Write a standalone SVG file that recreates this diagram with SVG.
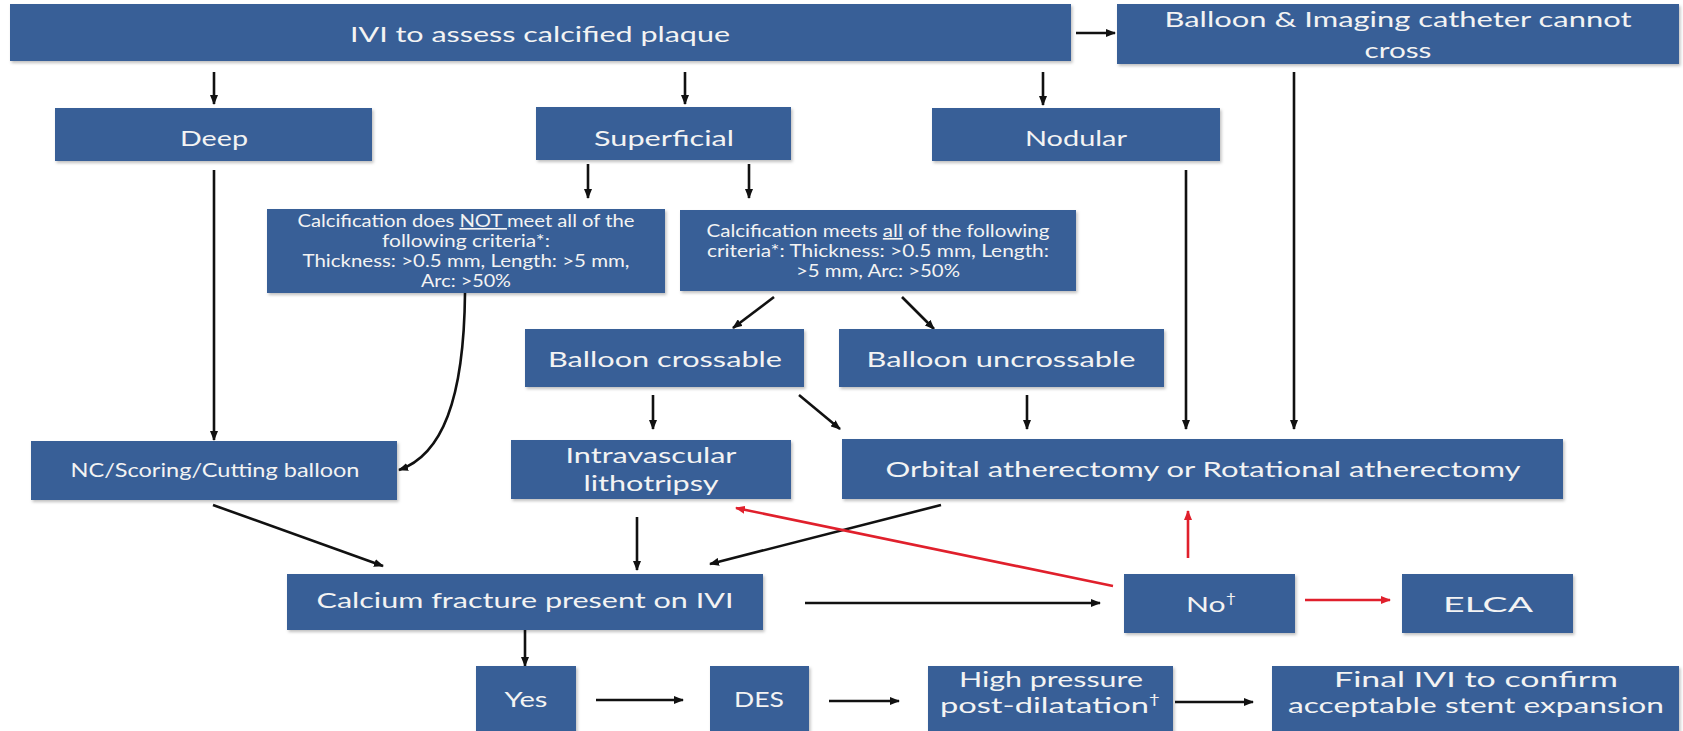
<svg xmlns="http://www.w3.org/2000/svg" width="1683" height="731" viewBox="0 0 1683 731">
<defs>
<style>
.box{fill:#385f97;filter:url(#sh)}
.t{font-family:Lato,"Open Sans",sans-serif;font-size:22px;fill:#f3f3f3;text-anchor:middle}
.s{font-family:Lato,"Open Sans",sans-serif;font-size:16.5px;fill:#f3f3f3;text-anchor:middle}
.c{stroke:#111;stroke-width:2.6;fill:none;marker-end:url(#ab)}
.r{stroke:#e0202c;stroke-width:2.6;fill:none;marker-end:url(#ar)}
.u{text-decoration:underline}
.sup{font-size:13px}
</style>
<filter id="sh" x="-5%" y="-10%" width="110%" height="130%">
<feDropShadow dx="1.5" dy="2" stdDeviation="1.5" flood-color="#000" flood-opacity="0.25"/>
</filter>
<marker id="ab" markerUnits="userSpaceOnUse" markerWidth="10" markerHeight="8" refX="9" refY="4" orient="auto">
<path d="M0,0 L10,4 L0,8 z" fill="#111"/>
</marker>
<marker id="ar" markerUnits="userSpaceOnUse" markerWidth="10" markerHeight="8" refX="9" refY="4" orient="auto">
<path d="M0,0 L10,4 L0,8 z" fill="#e0202c"/>
</marker>
</defs>
<rect width="1683" height="731" fill="#fff"/>

<g id="connectors">
<line class="c" x1="1076" y1="33" x2="1115" y2="33"/>
<line class="c" x1="214" y1="72" x2="214" y2="104"/>
<line class="c" x1="685" y1="72" x2="685" y2="104"/>
<line class="c" x1="1043" y1="72" x2="1043" y2="105"/>
<line class="c" x1="588" y1="164" x2="588" y2="198"/>
<line class="c" x1="749" y1="164" x2="749" y2="198"/>
<line class="c" x1="214" y1="170" x2="214" y2="440"/>
<path class="c" d="M465,293 C464,400 442,455 399,470"/>
<line class="c" x1="774" y1="297" x2="733" y2="328"/>
<line class="c" x1="902" y1="297" x2="934" y2="329"/>
<line class="c" x1="653" y1="395" x2="653" y2="429"/>
<line class="c" x1="799" y1="395" x2="840" y2="429"/>
<line class="c" x1="1027" y1="395" x2="1027" y2="429"/>
<line class="c" x1="1186" y1="170" x2="1186" y2="429"/>
<line class="c" x1="1294" y1="72" x2="1294" y2="429"/>
<line class="c" x1="213" y1="505" x2="383" y2="566"/>
<line class="c" x1="637" y1="517" x2="637" y2="570"/>
<line class="c" x1="941" y1="505" x2="710" y2="564"/>
<line class="c" x1="805" y1="603" x2="1100" y2="603"/>
<line class="c" x1="525" y1="630" x2="525" y2="666"/>
<line class="c" x1="596" y1="700" x2="683" y2="700"/>
<line class="c" x1="829" y1="701" x2="899" y2="701"/>
<line class="c" x1="1175" y1="702" x2="1253" y2="702"/>
<line class="r" x1="1113" y1="586" x2="736" y2="508"/>
<line class="r" x1="1188" y1="558" x2="1188" y2="511"/>
<line class="r" x1="1305" y1="600" x2="1390" y2="600"/>
</g>

<g id="n-top"><rect class="box" x="10" y="4" width="1061" height="57"/>
<text class="t" x="540" y="42" textLength="380" lengthAdjust="spacingAndGlyphs">IVI to assess calcified plaque</text></g>

<g id="n-cross"><rect class="box" x="1117" y="4" width="562" height="60"/>
<text class="t" x="1398" y="27" textLength="467" lengthAdjust="spacingAndGlyphs">Balloon &amp; Imaging catheter cannot</text>
<text class="t" x="1398" y="58" textLength="67" lengthAdjust="spacingAndGlyphs">cross</text></g>

<g id="n-deep"><rect class="box" x="55" y="108" width="317" height="53"/>
<text class="t" x="214" y="146" textLength="68" lengthAdjust="spacingAndGlyphs">Deep</text></g>

<g id="n-superficial"><rect class="box" x="536" y="107" width="255" height="53"/>
<text class="t" x="664" y="146" textLength="140" lengthAdjust="spacingAndGlyphs">Superficial</text></g>

<g id="n-nodular"><rect class="box" x="932" y="108" width="288" height="53"/>
<text class="t" x="1076" y="146" textLength="102" lengthAdjust="spacingAndGlyphs">Nodular</text></g>

<g id="n-not"><rect class="box" x="267" y="209" width="398" height="84"/>
<text class="s" x="466" y="227" textLength="337" lengthAdjust="spacingAndGlyphs">Calcification does <tspan class="u">NOT </tspan>meet all of the</text>
<text class="s" x="466" y="247" textLength="168" lengthAdjust="spacingAndGlyphs">following criteria*:</text>
<text class="s" x="466" y="267" textLength="327" lengthAdjust="spacingAndGlyphs">Thickness: &gt;0.5 mm, Length: &gt;5 mm,</text>
<text class="s" x="466" y="287" textLength="90" lengthAdjust="spacingAndGlyphs">Arc: &gt;50%</text></g>

<g id="n-meets"><rect class="box" x="680" y="210" width="396" height="81"/>
<text class="s" x="878" y="237" textLength="343" lengthAdjust="spacingAndGlyphs">Calcification meets <tspan class="u">all</tspan> of the following</text>
<text class="s" x="878" y="257" textLength="342" lengthAdjust="spacingAndGlyphs">criteria*: Thickness: &gt;0.5 mm, Length:</text>
<text class="s" x="878" y="277" textLength="164" lengthAdjust="spacingAndGlyphs">&gt;5 mm, Arc: &gt;50%</text></g>

<g id="n-crossable"><rect class="box" x="525" y="329" width="279" height="58"/>
<text class="t" x="665" y="367" textLength="234" lengthAdjust="spacingAndGlyphs">Balloon crossable</text></g>

<g id="n-uncrossable"><rect class="box" x="839" y="329" width="325" height="58"/>
<text class="t" x="1001" y="367" textLength="269" lengthAdjust="spacingAndGlyphs">Balloon uncrossable</text></g>

<g id="n-nc"><rect class="box" x="31" y="441" width="366" height="59"/>
<text class="s" x="215" y="477" style="font-size:19px" textLength="289" lengthAdjust="spacingAndGlyphs">NC/Scoring/Cutting balloon</text></g>

<g id="n-ivl"><rect class="box" x="511" y="440" width="280" height="59"/>
<text class="t" x="651" y="463" textLength="171" lengthAdjust="spacingAndGlyphs">Intravascular</text>
<text class="t" x="651" y="491" textLength="135" lengthAdjust="spacingAndGlyphs">lithotripsy</text></g>

<g id="n-orbital"><rect class="box" x="842" y="439" width="721" height="60"/>
<text class="t" x="1203" y="477" textLength="635" lengthAdjust="spacingAndGlyphs">Orbital atherectomy or Rotational atherectomy</text></g>

<g id="n-calcium"><rect class="box" x="287" y="574" width="476" height="56"/>
<text class="t" x="525" y="608" textLength="417" lengthAdjust="spacingAndGlyphs">Calcium fracture present on IVI</text></g>

<g id="n-no"><rect class="box" x="1124" y="574" width="171" height="59"/>
<text class="t" x="1211" y="612" textLength="50" lengthAdjust="spacingAndGlyphs">No<tspan class="sup" dy="-9">†</tspan></text></g>

<g id="n-elca"><rect class="box" x="1402" y="574" width="171" height="59"/>
<text class="t" x="1488" y="612" textLength="90" lengthAdjust="spacingAndGlyphs">ELCA</text></g>

<g id="n-yes"><rect class="box" x="476" y="666" width="100" height="68"/>
<text class="t" x="526" y="707" textLength="43" lengthAdjust="spacingAndGlyphs">Yes</text></g>

<g id="n-des"><rect class="box" x="710" y="666" width="99" height="68"/>
<text class="t" x="759" y="707" textLength="50" lengthAdjust="spacingAndGlyphs">DES</text></g>

<g id="n-high"><rect class="box" x="928" y="666" width="245" height="68"/>
<text class="t" x="1051" y="687" textLength="184" lengthAdjust="spacingAndGlyphs">High pressure</text>
<text class="t" x="1050" y="713" textLength="220" lengthAdjust="spacingAndGlyphs">post-dilatation<tspan class="sup" dy="-9">†</tspan></text></g>

<g id="n-final"><rect class="box" x="1272" y="666" width="407" height="68"/>
<text class="t" x="1476" y="687" textLength="284" lengthAdjust="spacingAndGlyphs">Final IVI to confirm</text>
<text class="t" x="1476" y="713" textLength="376" lengthAdjust="spacingAndGlyphs">acceptable stent expansion</text></g>
</svg>
